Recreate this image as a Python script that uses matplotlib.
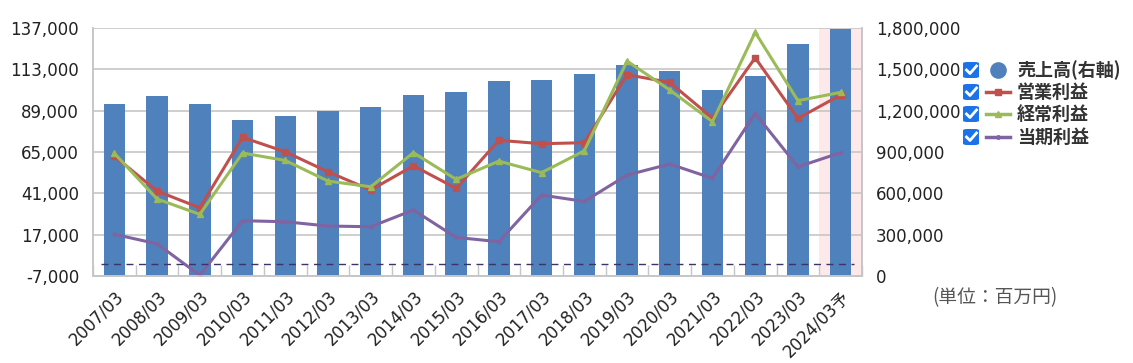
import numpy as np
import matplotlib
matplotlib.use("Agg")
import matplotlib.pyplot as plt
from matplotlib.patches import FancyBboxPatch
from matplotlib.lines import Line2D

plt.rcParams['font.family'] = ['DejaVu Sans', 'Noto Sans CJK JP']

# data (百万円)
years = ['2007/03', '2008/03', '2009/03', '2010/03', '2011/03', '2012/03',
         '2013/03', '2014/03', '2015/03', '2016/03', '2017/03', '2018/03',
         '2019/03', '2020/03', '2021/03', '2022/03', '2023/03', '2024/03予']
sales = [1248000, 1304000, 1248000, 1132000, 1161000, 1195000, 1227000,
         1314000, 1335000, 1413000, 1423000, 1466000, 1531000, 1488000,
         1348000, 1454000, 1686000, 1795000]
op_profit = [62600, 42300, 32600, 73500, 65100, 53500, 42900, 57000, 43900,
             71800, 69800, 70400, 109900, 105400, 84700, 119700, 84500, 98100]
ord_profit = [64200, 37700, 28800, 64400, 60100, 48100, 44800, 64600, 49100,
              59700, 53000, 65700, 117800, 101000, 82600, 134500, 94800, 99600]
net_profit = [17200, 11700, -6600, 25100, 24500, 22000, 21600, 31300, 15400,
              12900, 40000, 36300, 51600, 58000, 49700, 87400, 56400, 64600]

left_ticks = list(range(-7000, 137001, 24000))
right_ticks = list(range(0, 1800001, 300000))

c_bar = '#4f81bd'
c_op = '#c0504d'
c_ord = '#9bbb59'
c_net = '#8064a2'
c_grid = '#c6c6c6'
c_txt = '#222222'

fig = plt.figure(figsize=(11.33, 3.63), dpi=100)
ax2 = fig.add_axes([0.0821, 0.2397, 0.6787, 0.6832])  # bars, right axis
ax = ax2.twinx()
ax.yaxis.tick_left()
ax2.yaxis.tick_right()
ax.set_zorder(ax2.get_zorder() + 1)
ax.patch.set_visible(False)

x = np.arange(len(years))

# bars on right axis
ax2.axvspan(16.5, 17.5, color='#fde9e9', zorder=0, lw=0)
ax2.bar(x, sales, width=0.5, color=c_bar, zorder=2)
ax2.set_ylim(0, 1800000)
ax2.set_yticks(right_ticks)
ax2.set_yticklabels([f'{v:,}' for v in right_ticks])
ax2.grid(axis='y', color=c_grid, lw=1.2, zorder=1)
ax2.set_axisbelow(True)

# lines on left axis
ax.plot(x, op_profit, color=c_op, lw=2.2, marker='s', ms=4)
ax.plot(x, ord_profit, color=c_ord, lw=2.2, marker='^', ms=5)
ax.plot(x, net_profit, color=c_net, lw=2.2, marker='o', ms=2)
ax.axhline(0, color='#3d3366', lw=1, ls=(0, (5, 4)), xmin=0.01, xmax=0.99)
ax.set_ylim(-7000, 137000)
ax.set_yticks(left_ticks)
ax.set_yticklabels([f'{v:,}' for v in left_ticks])

ax2.set_xlim(-0.5, len(years) - 0.5)
ax2.set_xticks(x)
ax2.set_xticklabels(years, rotation=45, ha='right', rotation_mode='anchor')
ax2.set_xticks(np.arange(-0.5, len(years), 1.0), minor=True)
ax2.tick_params(axis='x', which='major', length=0, pad=8, labelsize=12,
                labelcolor=c_txt)
ax2.tick_params(axis='x', which='minor', direction='in', length=8,
                color=c_grid, width=1)
ax2.tick_params(axis='y', length=0, pad=10, labelsize=12, labelcolor=c_txt)
ax.tick_params(axis='y', length=0, pad=10, labelsize=12, labelcolor=c_txt)

for a in (ax, ax2):
    a.spines['top'].set_visible(False)
    for s in ('left', 'right', 'bottom'):
        a.spines[s].set_color(c_grid)
        a.spines[s].set_linewidth(1.2)

# legend with checkboxes
W, H = 1133.0, 363.0
labels = ['売上高(右軸)', '営業利益', '経常利益', '当期利益']
rows = [70, 92, 114, 137]
for i, (lab, yc) in enumerate(zip(labels, rows)):
    yf = 1 - yc / H
    box = FancyBboxPatch((963 / W, (H - yc - 8) / H), 16 / W, 16 / H,
                         boxstyle='round,pad=0,rounding_size=0.004',
                         transform=fig.transFigure, fc='#1a73e8', ec='none')
    fig.patches.append(box)
    fig.lines.append(Line2D([966.5 / W, 970 / W, 976.5 / W],
                            [(H - yc) / H, (H - yc - 3.5) / H, (H - yc + 4) / H],
                            transform=fig.transFigure, color='white', lw=2))
    if i == 0:
        fig.lines.append(Line2D([998 / W], [yf], transform=fig.transFigure,
                                color=c_bar, marker='o', ms=12, mew=0))
    else:
        col, mk = [(c_op, 's'), (c_ord, '^'), (c_net, 'o')][i - 1]
        fig.lines.append(Line2D([986 / W, 1010 / W], [yf, yf], transform=fig.transFigure,
                                color=col, lw=2.5))
        fig.lines.append(Line2D([998 / W], [yf], transform=fig.transFigure, color=col,
                                marker=mk, ms=4 if mk != 'o' else 2.5))
    fig.text(1017 / W, yf, lab, fontsize=13, fontweight='bold', color='#333333',
             va='center', ha='left', family=['Noto Sans CJK JP', 'DejaVu Sans'])

fig.text(932 / W, 1 - 298 / H, '(単位：百万円)', fontsize=13.5, color='#555555',
         va='center', ha='left', family=['Noto Sans CJK JP', 'DejaVu Sans'])

fig.savefig('out.png', dpi=100)
